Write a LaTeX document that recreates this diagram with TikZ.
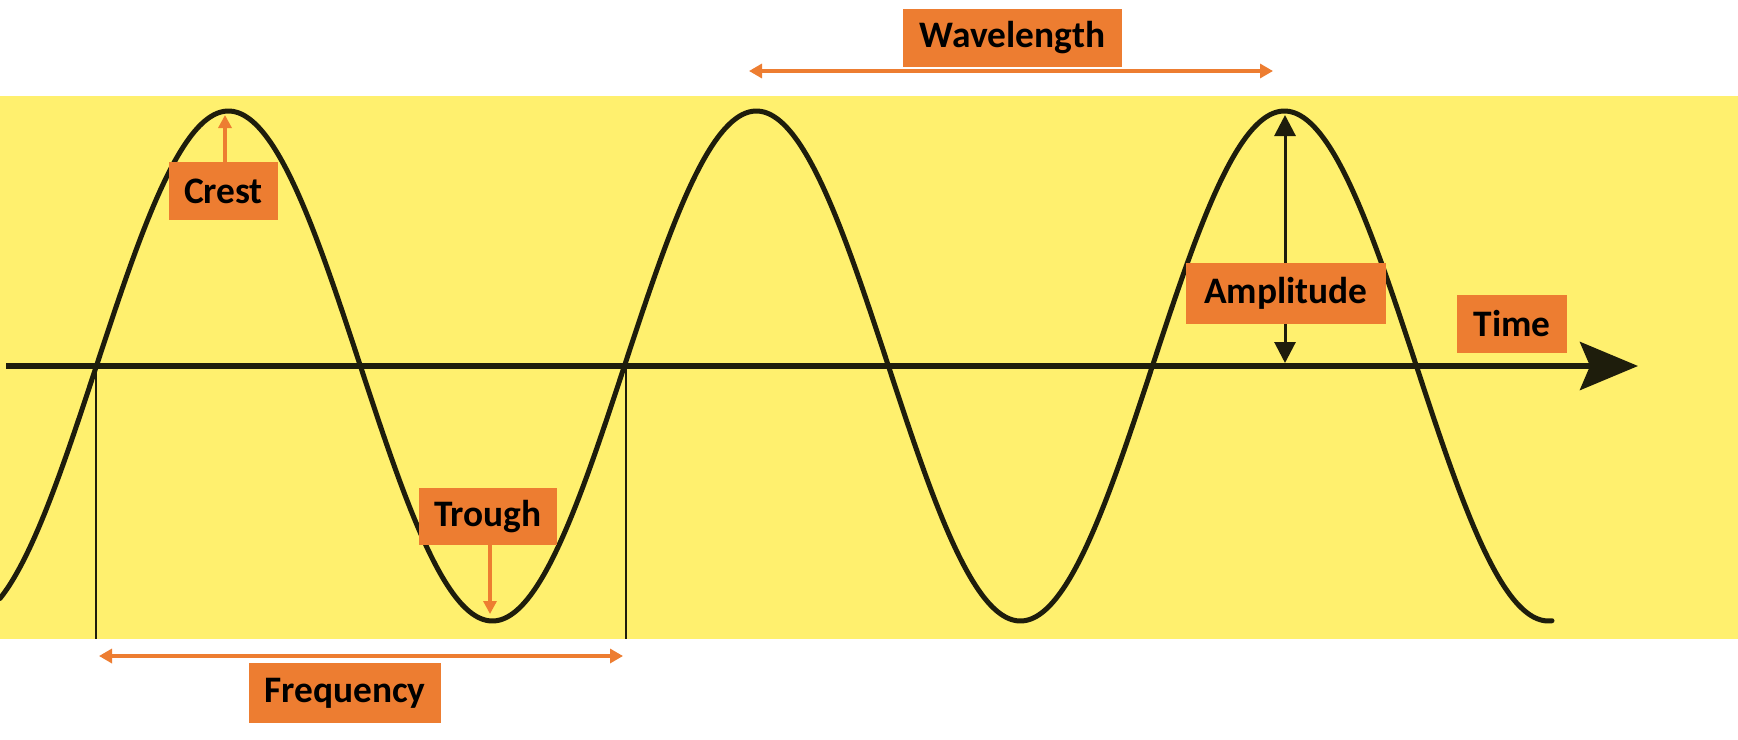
\documentclass[tikz,border=0pt]{standalone}
\usepackage{fontspec}
\setmainfont{Carlito}
\usetikzlibrary{arrows.meta}
\definecolor{bandyellow}{RGB}{255,240,110}
\definecolor{boxorange}{RGB}{237,125,49}
\definecolor{wavedark}{RGB}{30,29,12}
\begin{document}
\begin{tikzpicture}[x=0.5pt,y=-0.5pt,
  label box/.style={fill=boxorange, inner sep=0pt, font=\bfseries\fontsize{18.7pt}{20pt}\selectfont, text=black},
  orange arrow/.style={draw=boxorange, line width=1.6pt, -{Triangle[length=6.5pt,width=6.5pt]}},
  orange double/.style={draw=boxorange, line width=1.6pt, {Triangle[length=6.5pt,width=7pt]}-{Triangle[length=6.5pt,width=7pt]}},
  black arrow/.style={draw=wavedark, line width=1.5pt, -{Triangle[length=10.5pt,width=10.5pt]}},
  guide line/.style={draw=wavedark, line width=1pt}]
\useasboundingbox (0,0) rectangle (1738,739);
\fill[white] (0,0) rectangle (1738,739);
\fill[bandyellow] (0,96) rectangle (1738,639);

% guide lines
\coordinate (g1top) at (96,366);
\coordinate (g1bot) at (96,639);
\coordinate (g2top) at (626,366);
\coordinate (g2bot) at (626,639);
\draw[guide line] (g1top) -- (g1bot);
\draw[guide line] (g2top) -- (g2bot);

% time axis
\coordinate (axisStart) at (6,366);
\coordinate (axisEnd) at (1638,366);
\draw[wavedark, line width=2.8pt, -{Stealth[length=29pt,width=24pt,inset=5pt]}] (axisStart) -- (axisEnd);

% wave
\draw[wavedark, line width=2.5pt, line cap=round, line join=round]
  plot[domain=0:1552, samples=320, smooth] (\x, {366-255*sin((\x-96.4)/528*360)});

% coordinates for arrow ends
\coordinate (crestTip) at (225,115);
\coordinate (troughTip) at (490,614);
\coordinate (ampTop) at (1285,115);
\coordinate (ampBot) at (1285,363);
\coordinate (wlL) at (749,71);
\coordinate (wlR) at (1273,71);
\coordinate (frL) at (99,656);
\coordinate (frR) at (623,656);

% labels
\node[label box, minimum width=219*0.5pt, minimum height=58*0.5pt] (wavelength) at (1012.5,38) {Wavelength};
\node[label box, minimum width=109*0.5pt, minimum height=58*0.5pt] (crest) at (223.5,191) {Crest};
\node[label box, minimum width=200*0.5pt, minimum height=61*0.5pt] (amplitude) at (1286,293.5) {Amplitude};
\node[label box, minimum width=110*0.5pt, minimum height=58*0.5pt] (time) at (1512,324) {Time};
\node[label box, minimum width=138*0.5pt, minimum height=57*0.5pt] (trough) at (488,516.5) {Trough};
\node[label box, minimum width=192*0.5pt, minimum height=60*0.5pt] (frequency) at (345,693) {Frequency};

% connectors
\draw[orange arrow] (crest.north -| crestTip) -- (crestTip);
\draw[orange arrow] (trough.south -| troughTip) -- (troughTip);
\draw[black arrow] (amplitude.north -| ampTop) -- (ampTop);
\draw[black arrow] (amplitude.south -| ampBot) -- (ampBot);
\draw[orange double] (wlL) -- (wlR);
\draw[orange double] (frL) -- (frR);
\end{tikzpicture}
\end{document}
